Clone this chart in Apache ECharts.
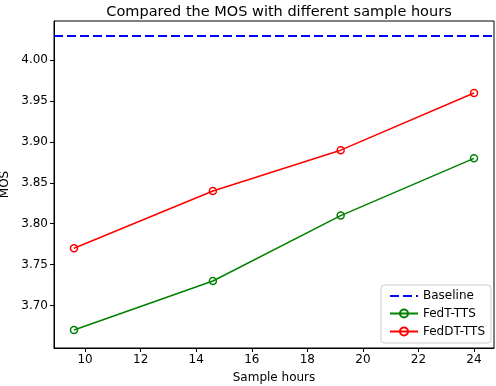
<!DOCTYPE html>
<html>
<head>
<meta charset="utf-8">
<script src="https://cdn.jsdelivr.net/npm/echarts@6/dist/echarts.min.js"></script>
<style>
  html, body { margin: 0; padding: 0; background: #fff; }
  #chart { width: 496px; height: 386px; }
</style>
</head>
<body>
<div id="chart"></div>
<script>
// data
const sampleHours = [9.6, 14.6, 19.2, 24];
const fedT = [3.67, 3.73, 3.81, 3.88];
const fedDT = [3.77, 3.84, 3.89, 3.96];
const baseline = 4.03;
const xTicks = [10, 12, 14, 16, 18, 20, 22, 24];
const yTicks = [3.70, 3.75, 3.80, 3.85, 3.90, 3.95, 4.00];

const font = "DejaVu Sans";
const chart = echarts.init(document.getElementById("chart"), null, { renderer: "canvas" });

const pairs = (xs, ys) => xs.map((x, i) => [x, ys[i]]);
const ringMarker = (color) => ({
  type: "line",
  symbol: "circle",
  symbolSize: 7,
  showAllSymbol: true,
  lineStyle: { color, width: 1.5 },
  itemStyle: { color: "none", borderColor: color, borderWidth: 1.5 },
  emphasis: { disabled: true },
});

chart.setOption({
  animation: false,
  backgroundColor: "#fff",
  textStyle: { fontFamily: font },
  title: {
    text: "Compared the MOS with different sample hours",
    left: 274, top: 0, textAlign: "center",
    textStyle: { fontFamily: font, fontSize: 14.5, fontWeight: "normal", color: "#000" },
  },
  grid: { left: 54, right: 2, top: 21, bottom: 38, outerBoundsMode: "none", containLabel: false },
  legend: {
    orient: "vertical",
    right: 5, bottom: 43,
    backgroundColor: "rgba(255,255,255,0.8)",
    borderColor: "#cccccc", borderWidth: 1, borderRadius: 3,
    padding: [5, 6, 5, 8],
    itemWidth: 28, itemHeight: 10, itemGap: 5,
    textStyle: { fontFamily: font, fontSize: 12, color: "#000" },
    data: ["Baseline", "FedT-TTS", "FedDT-TTS"],
  },
  xAxis: {
    type: "value",
    min: 8.88, max: 24.72,
    name: "Sample hours", nameLocation: "middle", nameGap: 24,
    nameTextStyle: { fontFamily: font, fontSize: 12, color: "#000" },
    axisLine: { onZero: false, lineStyle: { color: "#000", width: 1 } },
    axisTick: { show: true, length: 4, lineStyle: { color: "#000" }, customValues: xTicks },
    axisLabel: { fontFamily: font, fontSize: 12, color: "#000", margin: 6, customValues: xTicks,
      formatter: (v) => String(v) },
    splitLine: { show: false },
  },
  yAxis: {
    type: "value",
    min: 3.648, max: 4.048,
    name: "MOS", nameLocation: "middle", nameGap: 37,
    nameTextStyle: { fontFamily: font, fontSize: 12, color: "#000" },
    axisLine: { show: true, onZero: false, lineStyle: { color: "#000", width: 1 } },
    axisTick: { show: true, length: 4, lineStyle: { color: "#000" }, customValues: yTicks },
    axisLabel: { fontFamily: font, fontSize: 12, color: "#000", margin: 6, customValues: yTicks,
      formatter: (v) => v.toFixed(2) },
    splitLine: { show: false },
  },
  series: [
    {
      name: "Baseline",
      type: "line",
      data: [],
      symbol: "circle",
      symbolSize: 0,
      itemStyle: { color: "rgba(0,0,0,0)", borderWidth: 0 },
      lineStyle: { color: "#0000ff", width: 2.2, type: [9, 4] },
      markLine: {
        silent: true, symbol: "none", label: { show: false },
        lineStyle: { color: "#0000ff", width: 2.2, type: [9, 4] },
        data: [{ yAxis: baseline }],
      },
    },
    Object.assign(ringMarker("#008000"), { name: "FedT-TTS", data: pairs(sampleHours, fedT) }),
    Object.assign(ringMarker("#ff0000"), { name: "FedDT-TTS", data: pairs(sampleHours, fedDT) }),
  ],
  graphic: [{
    type: "rect", silent: true, z: -1,
    shape: { x: 54, y: 21, width: 440, height: 327 },
    style: { fill: "none", stroke: "#000", lineWidth: 1 },
  }],
});
</script>
</body>
</html>
